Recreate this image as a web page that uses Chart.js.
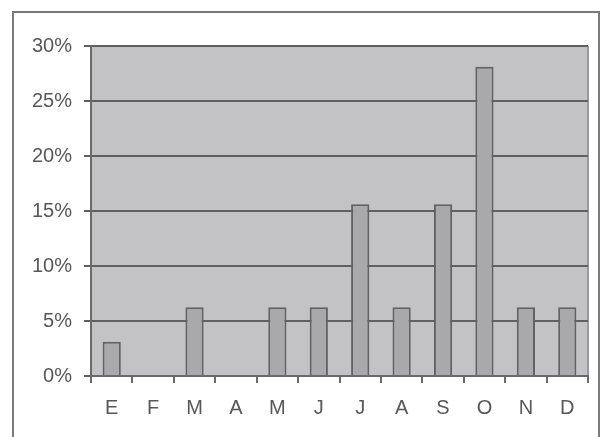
<!DOCTYPE html>
<html>
<head>
<meta charset="utf-8">
<script src="https://cdn.jsdelivr.net/npm/chart.js@4/dist/chart.umd.min.js"></script>
<style>
  html, body { margin: 0; padding: 0; background: #ffffff; }
  #wrap { width: 601px; height: 437px; position: relative; }
</style>
</head>
<body>
<div id="wrap"><canvas id="chart" width="601" height="437"></canvas></div>
<script>
// Monthly share (percent)
const months = ['E', 'F', 'M', 'A', 'M', 'J', 'J', 'A', 'S', 'O', 'N', 'D'];
const shares = [3.125, 0, 6.25, 0, 6.25, 6.25, 15.625, 6.25, 15.625, 28.125, 6.25, 6.25];
const yTicks = [0, 5, 10, 15, 20, 25, 30];

// Chart frame and grey plot background
const framePlugin = {
  id: 'frame',
  beforeDraw(chart) {
    const { ctx, chartArea: a } = chart;
    ctx.save();
    ctx.fillStyle = '#ffffff';
    ctx.fillRect(0, 0, chart.width, chart.height);
    ctx.strokeStyle = '#7a7a7a';
    ctx.lineWidth = 2;
    ctx.strokeRect(13, 12, 586, 440);
    ctx.fillStyle = '#c3c3c5';
    ctx.fillRect(a.left, a.top, a.right - a.left, a.bottom - a.top);
    ctx.strokeStyle = '#9a9a9a';
    ctx.beginPath();
    ctx.moveTo(a.right, a.top);
    ctx.lineTo(a.right, a.bottom);
    ctx.stroke();
    ctx.restore();
  }
};

new Chart(document.getElementById('chart'), {
  type: 'bar',
  data: {
    labels: months,
    datasets: [{
      data: shares,
      backgroundColor: '#a9a9ab',
      borderColor: '#626262',
      borderWidth: 2,
      barPercentage: 0.44,
      categoryPercentage: 1.0
    }]
  },
  options: {
    responsive: false,
    animation: false,
    devicePixelRatio: 1,
    layout: { padding: { left: 0, top: 46, right: 13, bottom: 0 } },
    plugins: { legend: { display: false }, tooltip: { enabled: false } },
    scales: {
      x: {
        offset: true,
        afterFit(scale) { scale.height = 61; },
        border: { display: true, color: '#6a6a6a', width: 2 },
        grid: {
          offset: true,
          drawOnChartArea: false,
          drawTicks: true,
          tickLength: 7,
          color: '#6a6a6a',
          lineWidth: 2
        },
        ticks: {
          color: '#585858',
          font: { family: 'Liberation Sans, Arial, sans-serif', size: 20 },
          padding: 13,
          maxRotation: 0
        }
      },
      y: {
        min: 0,
        max: 30,
        afterFit(scale) { scale.width = 91; },
        afterBuildTicks(scale) { scale.ticks = yTicks.map(v => ({ value: v })); },
        border: { display: true, color: '#6a6a6a', width: 2 },
        grid: {
          drawTicks: true,
          tickLength: 7,
          color: '#606060',
          lineWidth: 2
        },
        ticks: {
          color: '#585858',
          font: { family: 'Liberation Sans, Arial, sans-serif', size: 20 },
          padding: 12,
          callback: v => v + '%'
        }
      }
    }
  },
  plugins: [framePlugin]
});
</script>
</body>
</html>
